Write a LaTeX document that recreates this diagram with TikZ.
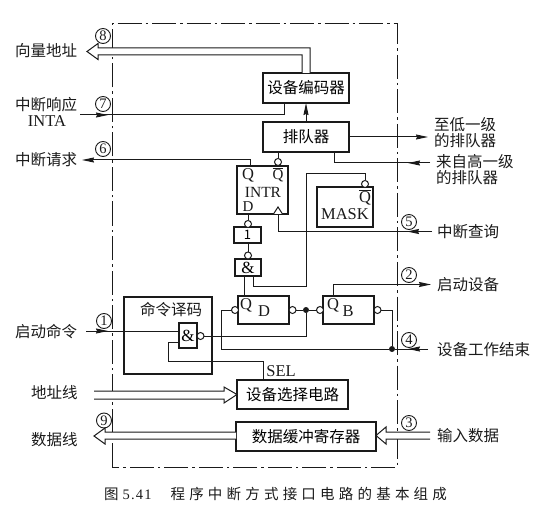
\documentclass[tikz,border=0pt]{standalone}
\usepackage{fontspec}
\setmainfont{Liberation Serif}
\newfontfamily\cjk{Noto Sans CJK SC}
\newfontfamily\capcjk{Noto Sans CJK SC}[LetterSpace=29]
\newfontfamily\caplat{Liberation Serif}[LetterSpace=8]
\usetikzlibrary{arrows.meta,calc}
\definecolor{ink}{HTML}{1A1A1A}
\tikzset{
  blk/.style={draw=ink,line width=1.5pt,inner sep=0pt,outer sep=0pt,fill=white,font=\fontsize{15.5}{15.5}\selectfont\cjk},
  wire/.style={draw=ink,line width=1pt},
  bubble/.style={circle,draw=ink,line width=1pt,fill=white,minimum size=7pt,inner sep=0pt,outer sep=0pt},
  jdot/.style={circle,fill=ink,minimum size=6pt,inner sep=0pt,outer sep=0pt},
  num/.style={circle,draw=ink,line width=.9pt,minimum size=15pt,inner sep=0pt,text=ink,font=\fontsize{14.5}{14.5}\selectfont},
  lbl/.style={text=ink,inner sep=0pt,align=center,font=\fontsize{15.5}{16}\selectfont\cjk},
  lat/.style={text=ink,inner sep=0pt,font=\fontsize{16.5}{16.5}\selectfont},
  tip/.style={-{Stealth[length=12pt,width=5pt,inset=1pt]}},
  bus/.style={draw=ink,line width=1pt,fill=white,line join=miter},
  frameline/.style={draw=ink,line width=1pt,dash pattern=on 24pt off 4pt on 2.5pt off 4pt}
}
\begin{document}
\begin{tikzpicture}[x=1pt,y=-1pt]
\useasboundingbox (0,0) rectangle (546,513);
% frame
\draw[frameline] (112,467) -- (112,24) -- (397,24) -- (397,467) -- cycle;

% blocks
\node[blk,minimum width=86pt,minimum height=30pt] (enc) at (306,88) {设备编码器};
\node[blk,minimum width=86pt,minimum height=30pt] (pq) at (306,137) {排队器};
\node[blk,minimum width=51pt,minimum height=48pt] (intr) at (262.5,190) {};
\node[blk,minimum width=56pt,minimum height=40pt] (mask) at (345,207) {};
\node[blk,minimum width=27pt,minimum height=16pt] (gone) at (247.5,235) {\fontsize{13}{13}\selectfont 1};
\node[blk,minimum width=26pt,minimum height=17pt] (gand) at (248,267.5) {\rmfamily\fontsize{17}{17}\selectfont \&};
\node[blk,minimum width=51pt,minimum height=28pt] (dff) at (263.5,310) {};
\node[blk,minimum width=51pt,minimum height=28pt] (bff) at (348.5,310) {};
\node[blk,minimum width=88pt,minimum height=77pt] (dec) at (168,335.5) {};
\node[blk,minimum width=18pt,minimum height=25pt] (gdec) at (188,335.5) {\rmfamily\fontsize{17}{17}\selectfont \&};
\node[blk,minimum width=111pt,minimum height=29pt] (sel) at (292.5,394.5) {设备选择电路};
\node[blk,minimum width=140pt,minimum height=29pt] (buf) at (306,436.5) {数据缓冲寄存器};

% guides
\coordinate (g250) at (250,0);
\coordinate (g284) at (284,0);
\coordinate (g334) at (334,0);
\coordinate (g333) at (333,0);
\coordinate (g306) at (306,0);
\coordinate (g253) at (253,0);
\coordinate (g244) at (244,0);
\coordinate (g302) at (302,0);
\coordinate (g310) at (310,0);
\coordinate (g263) at (263,0);
\coordinate (h342) at (0,342);

% bubbles
\node[bubble] (bqn) at (278,162) {};
\node[bubble] (bd) at (248,224) {};
\node[bubble] (bg) at (248,255.5) {};
\node[bubble] (bm) at (365,184) {};
\node[bubble] (bdl) at (235,310) {};
\node[bubble] (bdr) at (292.5,310) {};
\node[bubble] (bbl) at (320,310) {};
\node[bubble] (bbr) at (377.5,310) {};
\node[bubble] (bdec) at (200.5,336) {};
\node[jdot] (j1) at (306,310) {};
\node[jdot] (j2) at (392,349) {};

% free ends
\coordinate (f7) at (80,115);
\coordinate (f7t) at (108,115);
\coordinate (f6) at (82,160);
\coordinate (fl) at (428,137);
\coordinate (fh) at (430,163);
\coordinate (fht) at (408,163);
\coordinate (f5) at (432,231.5);
\coordinate (f5t) at (407,231.5);
\coordinate (f2) at (431,284.5);
\coordinate (f4) at (428,349);
\coordinate (f4t) at (408,349);
\coordinate (f1) at (86,331);
\coordinate (f1t) at (108,331);
\coordinate (ftri) at (278,207);

% connectors
\draw[wire] (f7) -- (g284 |- f7) -- (g284 |- enc.south);
\draw[wire,tip] (f7) -- (f7t);
\draw[wire,tip] (g306 |- pq.north) -- (g306 |- enc.south);
\draw[wire,tip] (pq.east |- fl) -- (fl);
\draw[wire] (fh) -- (g334 |- fh) -- (g334 |- pq.south);
\draw[wire,tip] (fh) -- (fht);
\draw[wire,tip] (g250 |- intr.north) -- (g250 |- f6) -- (f6);
\draw[wire] (bqn) -- (bqn |- pq.south);
\draw[wire] (bd) -- (bd |- intr.south);
\draw[wire] (bg) -- (bg |- gone.south);
\draw[wire] (g244 |- gand.south) -- (g244 |- dff.north);
\draw[wire] (g253 |- gand.south) -- (253,286) -- (306,286) -- (306,174) -- (365,174) -- (bm);
\draw[wire] (ftri) -- (278,231.5) -- (f5);
\draw[wire,tip] (f5) -- (f5t);
\draw[wire] (bdr) -- (j1) -- (bbl);
\draw[wire] (bdec) -- (306,336) -- (j1);
\draw[wire,tip] (g333 |- bff.north) -- (g333 |- f2) -- (f2);
\draw[wire] (bbr) -- (392,310) -- (j2);
\draw[wire] (bdl) -- (221,310) -- (221,349) -- (j2) -- (f4);
\draw[wire,tip] (f4) -- (f4t);
\draw[wire] (f1) -- (gdec.west |- f1);
\draw[wire,tip] (f1) -- (f1t);
\draw[wire] (gdec.west |- h342) -- (168,342) -- (168,361) -- (263,361) -- (g263 |- sel.north);

% INTR clock triangle
\draw[wire,fill=white] (273.5,214) -- (ftri) -- (282.5,214);

% buses
\draw[bus] (g310 |- enc.north) -- (310,48) -- (98,48) -- (98,43.5) -- (87,51.5) -- (98,59.5) -- (98,55) -- (302,55) -- (g302 |- enc.north);
\draw[bus] (94,391) -- (224,391) -- (224,387) -- (sel.west) -- (224,403) -- (224,399) -- (94,399);
\draw[bus] (buf.west |- 0,432) -- (105,432) -- (105,428) -- (94,436) -- (105,444) -- (105,439) -- (buf.west |- 0,439);
\draw[bus] (430,432) -- (386,432) -- (386,427) -- (buf.east |- 0,435.5) -- (386,444) -- (386,439) -- (430,439);

% inner texts
\node[lat] (tq) at (248,175) {Q};
\node[lat,font=\fontsize{15}{15}\selectfont] (tqn) at (278,175) {$\overline{\mbox{Q}}$};
\node[lat,font=\fontsize{15.5}{15.5}\selectfont] (ti) at (263,192.5) {INTR};
\node[lat,font=\fontsize{15}{15}\selectfont] (td) at (248,207) {D};
\node[lat] (tmq) at (365,197) {$\overline{\mbox{Q}}$};
\node[lat] (tm) at (345,214) {MASK};
\node[lat] (tdq) at (246,305) {Q};
\node[lat] (tdd) at (264,311) {D};
\node[lat] (tbq) at (333,305) {Q};
\node[lat] (tbb) at (348,311) {B};
\node[lat] (tsel) at (281,371) {SEL};
\node[lbl] (tdec) at (171,310) {命令译码};

% numbers
\node[num] (n8) at (103,36) {8};
\node[num] (n7) at (103,104) {7};
\node[num] (n6) at (103,149) {6};
\node[num] (n1) at (104,321) {1};
\node[num] (n9) at (104,420.5) {9};
\node[num] (n5) at (409,222) {5};
\node[num] (n2) at (409,275) {2};
\node[num] (n4) at (409,340) {4};
\node[num] (n3) at (409,423) {3};

% outer labels
\node[lbl,anchor=west] (l8) at (15,50.5) {向量地址};
\node[lbl] (l7) at (46,105) {中断响应};
\node[lat] (l7b) at (47,121) {INTA};
\node[lbl,anchor=west] (l6) at (15,159.5) {中断请求};
\node[lbl,anchor=west] (l1) at (15,331.5) {启动命令};
\node[lbl,anchor=west] (la) at (31,393) {地址线};
\node[lbl,anchor=west] (ld) at (31,440) {数据线};
\node[lbl,anchor=west] (r1) at (434,124.5) {至低一级};
\node[lbl,anchor=west] (r1b) at (434,141) {的排队器};
\node[lbl,anchor=west] (r2) at (436,161.5) {来自高一级};
\node[lbl,anchor=west] (r2b) at (436,177.5) {的排队器};
\node[lbl,anchor=west] (r5) at (437,231.5) {中断查询};
\node[lbl,anchor=west] (r3) at (437,285) {启动设备};
\node[lbl,anchor=west] (r4) at (437,350) {设备工作结束};
\node[lbl,anchor=west] (r6) at (437,436) {输入数据};
\node[text=ink,inner sep=0pt,anchor=west,font=\fontsize{14.5}{15}\selectfont] (cap) at (104,494) {{\capcjk 图}\hspace{4pt}{\caplat 5.41}\hspace{19pt}{\capcjk 程序中断方式接口电路的基本组成}};
\end{tikzpicture}
\end{document}
